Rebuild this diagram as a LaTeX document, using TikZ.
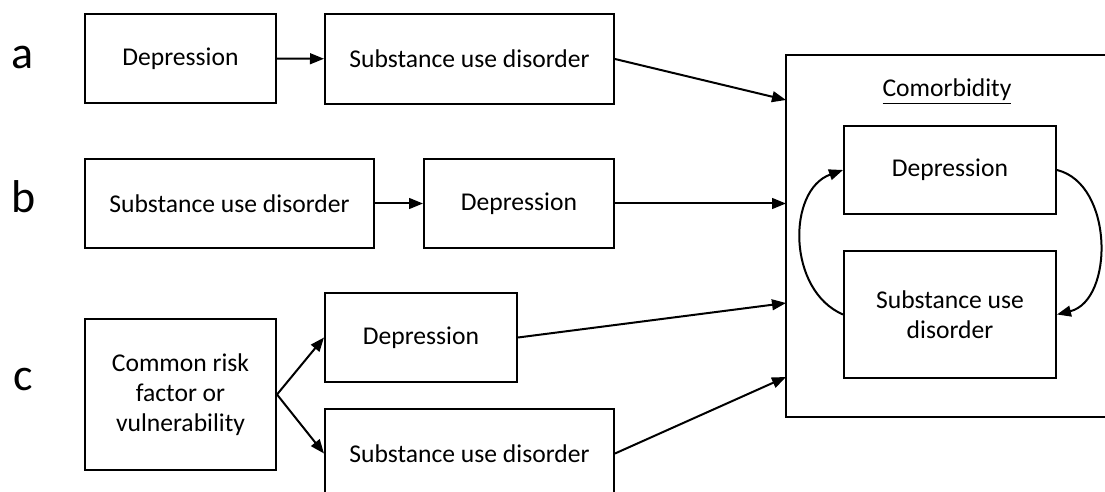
\documentclass[tikz,border=0pt]{standalone}
\usepackage{fontspec}
\setmainfont{Carlito}
\usetikzlibrary{arrows.meta}

\tikzstyle{arrow} = [line width=1pt,-{Triangle[length=7pt,width=5.4pt]}]
\tikzstyle{box} = [
        rectangle,
        draw=black,
        line width=1pt,
        align=center,
        font=\fontsize{12.8}{15}\selectfont,
        % inner sep=0pt,
    ]
\tikzstyle{rowlabel} = [font=\fontsize{23}{26}\selectfont]

\begin{document}
\begin{tikzpicture}[x=0.5pt,y=-0.5pt]
            \useasboundingbox (0,0) rectangle (1105,492);
            \clip (0,0) rectangle (1105,492);
            \node [rowlabel] (la) at (23,57.5) {a};
            \node [rowlabel] (lb) at (24,196.5) {b};
            \node [rowlabel] (lc) at (23,380) {c};
            % row a
            \node [box, minimum width=95.5pt, minimum height=44.5pt] (adep) at (180.5,58.5) {Depression};
            \node [box, minimum width=144.5pt, minimum height=45pt] (asud) at (469.5,59) {Substance use disorder};
            % row b
            \node [box, minimum width=144.5pt, minimum height=44.5pt] (bsud) at (229.5,203.5) {Substance use disorder};
            \node [box, minimum width=95pt, minimum height=44.5pt] (bdep) at (519,203.5) {Depression};
            % row c
            \node [box, minimum width=95.5pt, minimum height=75.5pt] (risk) at (180.5,394.5) {Common risk\\factor or\\vulnerability};
            \node [box, minimum width=96pt, minimum height=44.5pt] (cdep) at (421,337.5) {Depression};
            \node [box, minimum width=144.5pt, minimum height=44.5pt] (csud) at (469.5,453.5) {Substance use disorder};
            % comorbidity
            \node [box, minimum width=163pt, minimum height=181pt] (comorb) at (949,236) {};
            \node [font=\fontsize{12.8}{15}\selectfont] (comtitle) at (947,92) {\underline{Comorbidity}};
            \node [box, minimum width=106pt, minimum height=44pt] (idep) at (950,170) {Depression};
            \node [box, minimum width=106pt, minimum height=63.5pt] (isud) at (950,314.5) {Substance use\\disorder};
            \coordinate (ina) at (786,100);
            \coordinate (inb) at (786,203.5);
            \coordinate (incd) at (786,303);
            \coordinate (incs) at (786,377);
            \draw [arrow] (adep) -- (asud);
            \draw [arrow] (bsud) -- (bdep);
            \draw [arrow] (risk.east) -- (cdep.west);
            \draw [arrow] (risk.east) -- (csud.west);
            \draw [arrow] (asud.east) -- (ina);
            \draw [arrow] (bdep.east) -- (inb);
            \draw [arrow] (cdep.east) -- (incd);
            \draw [arrow] (csud.east) -- (incs);
            \draw [arrow] (isud.west) .. controls +(-56,-24) and +(-56,20) .. (idep.west);
            \draw [arrow] (idep.east) .. controls +(57,14) and +(57,-14) .. (isud.east);
        \end{tikzpicture}
\end{document}
